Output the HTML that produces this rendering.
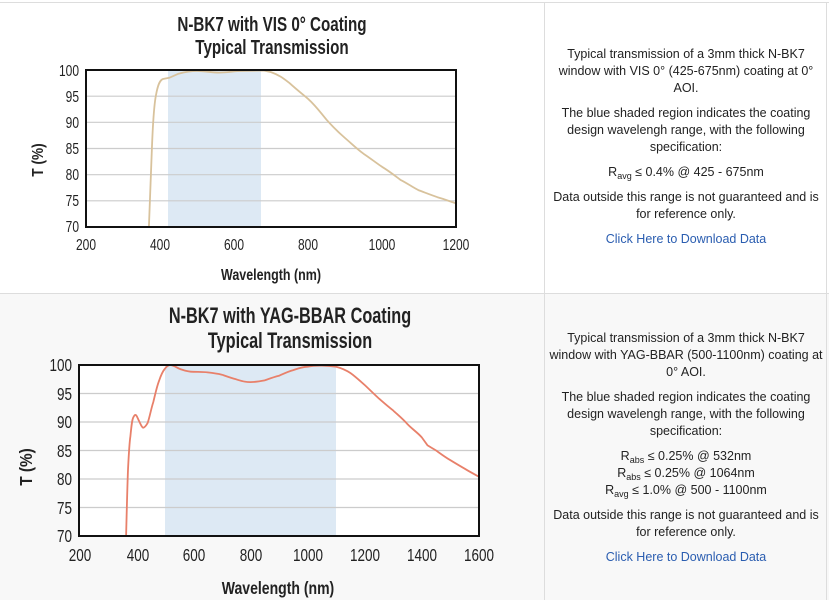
<!DOCTYPE html>
<html><head><meta charset="utf-8"><style>
body{margin:0;width:829px;height:600px;overflow:hidden;background:#fff;font-family:"Liberation Sans",sans-serif;position:relative}
.p{position:absolute;left:545px;width:282px;text-align:center;font-size:12.5px;line-height:17px;color:#222;white-space:nowrap}
.p p{margin:0 0 8px 0}
.p a{color:#2a5db0;text-decoration:none}
sub{font-size:9px;vertical-align:-3px;line-height:0}
</style></head><body>
<div style="position:absolute;left:0;top:293px;width:829px;height:307px;background:#f8f8f8"></div>
<div style="position:absolute;left:0;top:2px;width:829px;height:1px;background:#ddd"></div>
<div style="position:absolute;left:0;top:293px;width:829px;height:1px;background:#ddd"></div>
<div style="position:absolute;left:544px;top:2px;width:1px;height:598px;background:#ddd"></div>
<div style="position:absolute;left:826px;top:2px;width:1px;height:598px;background:#ddd"></div>
<svg width="829" height="600" style="position:absolute;left:0;top:0" font-family="Liberation Sans, sans-serif">
<rect x="86" y="70" width="370" height="157" fill="#fff"/>
<rect x="168" y="70" width="93" height="157" fill="#dde9f4"/>
<g stroke="#ccc" stroke-width="1.2">
<line x1="86" x2="456" y1="96.2" y2="96.2"/><line x1="86" x2="456" y1="122.3" y2="122.3"/><line x1="86" x2="456" y1="148.5" y2="148.5"/><line x1="86" x2="456" y1="174.7" y2="174.7"/><line x1="86" x2="456" y1="200.8" y2="200.8"/>
</g>
<path d="M148.9,227 L151.9,148.5 C153,120 154,105 156,95 C158,84 160,80 163,79 L169.3,77.8 L178.5,73.7 C185,72 190,71 197,71 C205,71 212,72.6 219.2,72.6 C228,72.6 234,71 241.4,71 L263.6,70.5 L271,72.1 C279,75 283,78 289.5,83.1 C296,89 301,93 308,98.8 C316,106 320,112 326.5,119.7 C333,127 338,132 345,138 C352,144 357,149 363.5,153.7 C370,158 375,162 382,166.8 C389,171 394,175 400.5,179.9 C407,183 412,187 419,190.4 C426,193 431,195 437.5,197.2 C444,199 449,201 456,203.4" fill="none" stroke="#d8c29c" stroke-width="1.8"/>
<rect x="86" y="70" width="370" height="157" fill="none" stroke="#111" stroke-width="2"/>
<g font-size="16" fill="#222" text-anchor="end">
<text x="79" y="76" transform="scale(0.75 1)" transform-origin="79 76">100</text>
<text x="79" y="102" transform="scale(0.75 1)" transform-origin="79 102">95</text>
<text x="79" y="128" transform="scale(0.75 1)" transform-origin="79 128">90</text>
<text x="79" y="154" transform="scale(0.75 1)" transform-origin="79 154">85</text>
<text x="79" y="180" transform="scale(0.75 1)" transform-origin="79 180">80</text>
<text x="79" y="206" transform="scale(0.75 1)" transform-origin="79 206">75</text>
<text x="79" y="232" transform="scale(0.75 1)" transform-origin="79 232">70</text>
</g>
<g font-size="16" fill="#222" text-anchor="middle">
<text x="86" y="250" transform="scale(0.75 1)" transform-origin="86 250">200</text>
<text x="160" y="250" transform="scale(0.75 1)" transform-origin="160 250">400</text>
<text x="234" y="250" transform="scale(0.75 1)" transform-origin="234 250">600</text>
<text x="308" y="250" transform="scale(0.75 1)" transform-origin="308 250">800</text>
<text x="382" y="250" transform="scale(0.75 1)" transform-origin="382 250">1000</text>
<text x="456" y="250" transform="scale(0.75 1)" transform-origin="456 250">1200</text>
</g>
<g font-weight="bold" fill="#222" text-anchor="middle">
<text x="272" y="31" font-size="20" transform="scale(0.76 1)" transform-origin="272 31">N-BK7 with VIS 0° Coating</text>
<text x="272" y="54" font-size="20" transform="scale(0.76 1)" transform-origin="272 54">Typical Transmission</text>
<text x="271" y="280" font-size="16" transform="scale(0.78 1)" transform-origin="271 280">Wavelength (nm)</text>
<text x="0" y="0" font-size="16" transform="translate(43 160) rotate(-90) scale(0.85 1)" text-anchor="middle">T (%)</text>
</g>
<rect x="79" y="365" width="400" height="171" fill="#fff"/>
<rect x="165" y="365" width="171" height="171" fill="#dde9f4"/>
<g stroke="#ccc" stroke-width="1.2">
<line x1="79" x2="479" y1="393.5" y2="393.5"/><line x1="79" x2="479" y1="422" y2="422"/><line x1="79" x2="479" y1="450.5" y2="450.5"/><line x1="79" x2="479" y1="479" y2="479"/><line x1="79" x2="479" y1="507.5" y2="507.5"/>
</g>
<path d="M126.1,536 C127,500 127.5,480 128.1,467.6 C129,450 129.5,442 130.4,436.3 C131.5,425 132,420 133.3,417.4 C134.5,415 135,414.5 136.1,415.2 C137.5,417 138,419 139,420.9 C140.5,424 142,427.7 143.3,427.7 C145,427.5 146.5,425 147.6,423.1 C150,416 151,409 153.3,402.1 C155.5,393 157,386 159,381 C161,375 163,371 164.7,369 C166.5,366.5 168.5,365 170.4,365 C175,365.5 178,369 181.9,369.6 C186,371 189,371.8 193.3,371.8 C198,372 203,371.8 207.6,372.4 C213,373 217,373.5 221.9,374.7 C227,376.5 231,378 236.1,379.3 C241,381 245,382.1 250.4,382.1 C255,382.1 259,381.5 264.7,380.4 C270,378.5 274,377 279,375.8 C284,373.5 288,371.5 293.3,370.1 C298,368.5 302,367 307.6,366.7 C312,365.8 316,365.5 321.8,365.6 C327,365.7 331,366 336.1,366.7 C341,368 346,370 350.4,373 C356,377 360,381 364.7,385 C370,390 374,394 379,398.6 C384,403 388,406.5 393.3,410.6 C398,415 403,419 407.6,424.3 C412,429 417,432 421.8,437.4 L427.6,445.4 C431,447.5 433,448.5 436.1,450.5 C441,454 445,457 450.4,460.2 C455,463 460,466 464.7,468.7 C470,472 474,474 479,476.7" fill="none" stroke="#e8806a" stroke-width="1.8"/>
<rect x="79" y="365" width="400" height="171" fill="none" stroke="#111" stroke-width="2"/>
<g font-size="18" fill="#222" text-anchor="end">
<text x="72" y="371" transform="scale(0.75 1)" transform-origin="72 371">100</text>
<text x="72" y="400" transform="scale(0.75 1)" transform-origin="72 400">95</text>
<text x="72" y="428" transform="scale(0.75 1)" transform-origin="72 428">90</text>
<text x="72" y="457" transform="scale(0.75 1)" transform-origin="72 457">85</text>
<text x="72" y="485" transform="scale(0.75 1)" transform-origin="72 485">80</text>
<text x="72" y="514" transform="scale(0.75 1)" transform-origin="72 514">75</text>
<text x="72" y="542" transform="scale(0.75 1)" transform-origin="72 542">70</text>
</g>
<g font-size="18" fill="#222" text-anchor="middle">
<text x="80" y="561" transform="scale(0.75 1)" transform-origin="80 561">200</text>
<text x="138" y="561" transform="scale(0.75 1)" transform-origin="138 561">400</text>
<text x="194" y="561" transform="scale(0.75 1)" transform-origin="194 561">600</text>
<text x="251" y="561" transform="scale(0.75 1)" transform-origin="251 561">800</text>
<text x="308" y="561" transform="scale(0.75 1)" transform-origin="308 561">1000</text>
<text x="365" y="561" transform="scale(0.75 1)" transform-origin="365 561">1200</text>
<text x="422" y="561" transform="scale(0.75 1)" transform-origin="422 561">1400</text>
<text x="479" y="561" transform="scale(0.75 1)" transform-origin="479 561">1600</text>
</g>
<g font-weight="bold" fill="#222" text-anchor="middle">
<text x="290" y="323" font-size="22" transform="scale(0.74 1)" transform-origin="290 323">N-BK7 with YAG-BBAR Coating</text>
<text x="290" y="348" font-size="22" transform="scale(0.74 1)" transform-origin="290 348">Typical Transmission</text>
<text x="278" y="594" font-size="18" transform="scale(0.78 1)" transform-origin="278 594">Wavelength (nm)</text>
<text x="0" y="0" font-size="18" transform="translate(32 467) rotate(-90) scale(0.85 1)" text-anchor="middle">T (%)</text>
</g>
</svg>
<div class="p" style="top:46px">
<p>Typical transmission of a 3mm thick N-BK7<br>window with VIS 0° (425-675nm) coating at 0°<br>AOI.</p>
<p>The blue shaded region indicates the coating<br>design wavelengh range, with the following<br>specification:</p>
<p>R<sub>avg</sub> ≤ 0.4% @ 425 - 675nm</p>
<p>Data outside this range is not guaranteed and is<br>for reference only.</p>
<p><a>Click Here to Download Data</a></p>
</div>
<div class="p" style="top:330px">
<p>Typical transmission of a 3mm thick N-BK7<br>window with YAG-BBAR (500-1100nm) coating at<br>0° AOI.</p>
<p>The blue shaded region indicates the coating<br>design wavelengh range, with the following<br>specification:</p>
<p>R<sub>abs</sub> ≤ 0.25% @ 532nm<br>R<sub>abs</sub> ≤ 0.25% @ 1064nm<br>R<sub>avg</sub> ≤ 1.0% @ 500 - 1100nm</p>
<p>Data outside this range is not guaranteed and is<br>for reference only.</p>
<p><a>Click Here to Download Data</a></p>
</div>
</body></html>
